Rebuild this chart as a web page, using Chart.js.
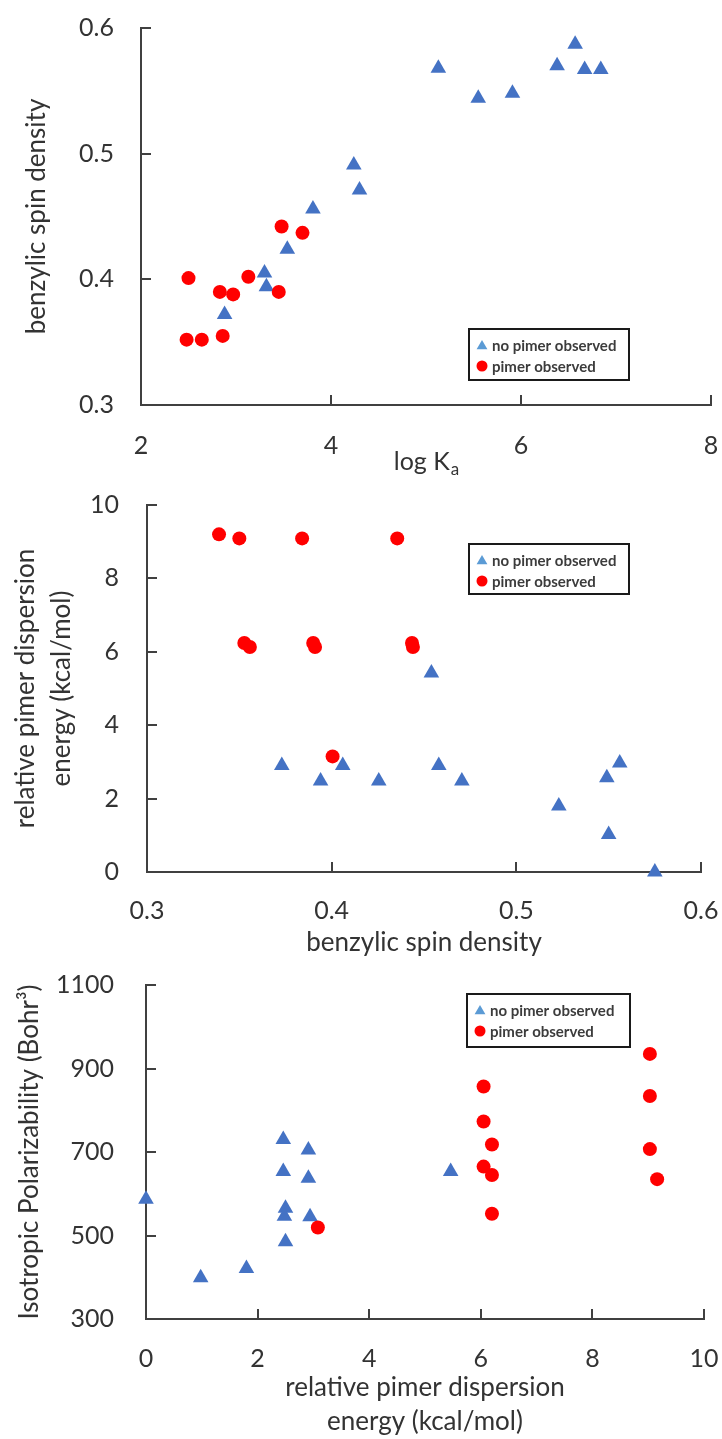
<!DOCTYPE html>
<html>
<head>
<meta charset="utf-8">
<script src="https://cdn.jsdelivr.net/npm/chart.js@4.4.0/dist/chart.umd.min.js"></script>
<style>
  html, body { margin: 0; padding: 0; background: #fff; }
  #wrap { position: relative; width: 722px; height: 1439px; }
  canvas { position: absolute; left: 0; }
</style>
</head>
<body>
<div id="wrap">
  <canvas id="c1" width="722" height="490" style="top:0"></canvas>
  <canvas id="c2" width="722" height="480" style="top:480px"></canvas>
  <canvas id="c3" width="722" height="479" style="top:960px"></canvas>
</div>
<script>
'use strict';

const LABEL_NONE = 'no pimer observed';
const LABEL_PIMER = 'pimer observed';

/* ─── Panel 1: log Ka vs benzylic spin density ─── */
const p1NoneLogKa = [5.13, 5.55, 5.91, 6.38, 6.57, 6.67, 6.84, 4.24, 4.30, 3.81, 3.54, 3.30, 3.32, 2.88];
const p1NoneSpin  = [0.568, 0.544, 0.548, 0.570, 0.587, 0.567, 0.567, 0.491, 0.471, 0.456, 0.424, 0.405, 0.394, 0.372];
const p1PimerLogKa = [2.50, 2.83, 2.97, 3.13, 3.48, 3.70, 3.45, 2.48, 2.64, 2.86];
const p1PimerSpin  = [0.401, 0.390, 0.388, 0.402, 0.442, 0.437, 0.390, 0.352, 0.352, 0.355];
const p1XTicks = [2, 4, 6, 8];
const p1XLabels = ['2', '4', '6', '8'];
const p1YTicks = [0.3, 0.4, 0.5, 0.6];
const p1YLabels = ['0.3', '0.4', '0.5', '0.6'];

/* ─── Panel 2: benzylic spin density vs relative pimer dispersion energy ─── */
const p2NoneSpin   = [0.454, 0.373, 0.394, 0.406, 0.4255, 0.458, 0.4705, 0.523, 0.549, 0.556, 0.550, 0.575];
const p2NoneEnergy = [5.42, 2.90, 2.48, 2.90, 2.48, 2.90, 2.48, 1.80, 2.57, 2.97, 1.02, 0.0];
const p2PimerSpin   = [0.339, 0.350, 0.384, 0.4355, 0.3527, 0.3557, 0.390, 0.391, 0.4435, 0.444, 0.4005];
const p2PimerEnergy = [9.20, 9.09, 9.09, 9.09, 6.24, 6.13, 6.24, 6.13, 6.24, 6.13, 3.15];
const p2XTicks = [0.3, 0.4, 0.5, 0.6];
const p2XLabels = ['0.3', '0.4', '0.5', '0.6'];
const p2YTicks = [0, 2, 4, 6, 8, 10];
const p2YLabels = ['0', '2', '4', '6', '8', '10'];

/* ─── Panel 3: relative pimer dispersion energy vs isotropic polarizability ─── */
const p3NoneEnergy = [0.0, 0.98, 1.80, 2.46, 2.46, 2.50, 2.48, 2.50, 2.91, 2.91, 2.94, 5.46];
const p3NonePolar  = [587, 399, 421, 730, 653, 565, 546, 485, 705, 637, 545, 653];
const p3PimerEnergy = [3.08, 6.05, 6.05, 6.20, 6.05, 6.20, 6.20, 9.03, 9.03, 9.03, 9.16];
const p3PimerPolar  = [519, 857, 773, 718, 665, 645, 552, 935, 834, 707, 635];
const p3XTicks = [0, 2, 4, 6, 8, 10];
const p3XLabels = ['0', '2', '4', '6', '8', '10'];
const p3YTicks = [300, 500, 700, 900, 1100];
const p3YLabels = ['300', '500', '700', '900', '1100'];

const BLUE = '#4472C4';
const BLUE_KEY = '#5B9BD5';
const RED = '#FF0000';
const AXIS = '#404040';
const TEXT = '#333333';

const $ = id => document.getElementById(id);
const pts = (xs, ys) => xs.map((x, i) => ({ x, y: ys[i] }));

Chart.defaults.font.family = 'Lato, "Open Sans", sans-serif';

// tick marks pointing into the plot, like the spreadsheet original
const inwardTicks = {
  id: 'inwardTicks',
  beforeDatasetsDraw(chart) {
    const { ctx, chartArea: a, scales: { x, y } } = chart;
    ctx.save();
    ctx.strokeStyle = AXIS;
    ctx.lineWidth = 2;
    ctx.beginPath();
    x.ticks.forEach(t => {
      const px = Math.round(x.getPixelForValue(t.value));
      ctx.moveTo(px, a.bottom);
      ctx.lineTo(px, a.bottom - 10);
    });
    y.ticks.forEach(t => {
      const py = Math.round(y.getPixelForValue(t.value));
      ctx.moveTo(a.left, py);
      ctx.lineTo(a.left + 10, py);
    });
    ctx.stroke();
    ctx.restore();
  }
};

// boxed legend inside the plot
const boxLegend = {
  id: 'boxLegend',
  afterDraw(chart, args, opts) {
    if (!opts || opts.x === undefined) return;
    const { ctx } = chart;
    const ds = chart.data.datasets;
    ctx.save();
    ctx.strokeStyle = '#1a1a1a';
    ctx.lineWidth = 2;
    ctx.strokeRect(opts.x, opts.y, opts.w, opts.h);

    // row 1: small triangle key
    const tx = opts.x + 13, ty = opts.y + 17, r = 6;
    ctx.fillStyle = BLUE_KEY;
    ctx.beginPath();
    ctx.moveTo(tx, ty - r);
    ctx.lineTo(tx + r * 0.9, ty + r * 0.55);
    ctx.lineTo(tx - r * 0.9, ty + r * 0.55);
    ctx.closePath();
    ctx.fill();

    // row 2: circle key
    ctx.fillStyle = ds[1].backgroundColor;
    ctx.beginPath();
    ctx.arc(opts.x + 13, opts.y + 37, 5.5, 0, Math.PI * 2);
    ctx.fill();

    ctx.fillStyle = '#3c3c3c';
    ctx.font = 'bold 15px Lato, sans-serif';
    ctx.textBaseline = 'middle';
    ctx.fillText(ds[0].label, opts.x + 23, opts.y + 17);
    ctx.fillText(ds[1].label, opts.x + 23, opts.y + 38);
    ctx.restore();
  }
};

// x title with a subscript (log Ka)
const subTitle = {
  id: 'subTitle',
  afterDraw(chart, args, opts) {
    if (!opts || !opts.main) return;
    const { ctx, chartArea: a } = chart;
    ctx.save();
    ctx.fillStyle = TEXT;
    ctx.textBaseline = 'alphabetic';
    ctx.font = '25px Lato, sans-serif';
    const w1 = ctx.measureText(opts.main).width;
    ctx.font = '17px Lato, sans-serif';
    const w2 = ctx.measureText(opts.sub).width;
    const x0 = (a.left + a.right) / 2 - (w1 + w2) / 2;
    ctx.font = '25px Lato, sans-serif';
    ctx.fillText(opts.main, x0, opts.baseline);
    ctx.font = '17px Lato, sans-serif';
    ctx.fillText(opts.sub, x0 + w1 + 1, opts.baseline + 5);
    ctx.restore();
  }
};

function axis(c) {
  return {
    type: 'linear',
    min: c.ticks[0],
    max: c.ticks[c.ticks.length - 1],
    afterBuildTicks: s => { s.ticks = c.ticks.map(v => ({ value: v })); },
    afterFit: s => {
      if (c.w !== undefined) s.width = c.w; else s.height = c.h;
      // keep tick padding from pushing the plot area inwards
      s.paddingTop = s.paddingBottom = s.paddingLeft = s.paddingRight = 0;
    },
    grid: { display: false, drawTicks: false },
    border: { display: true, color: AXIS, width: 2 },
    ticks: {
      padding: c.pad,
      color: TEXT,
      maxRotation: 0,
      autoSkip: false,
      font: { size: 25 },
      callback: (v, i) => c.labels[i]
    },
    title: c.title ? {
      display: true,
      text: c.title,
      color: TEXT,
      font: { size: 26, lineHeight: c.lh || 1.2 },
      padding: c.tpad
    } : { display: false }
  };
}

function makePanel(id, p) {
  return new Chart($(id), {
    type: 'scatter',
    data: {
      datasets: [
        { label: LABEL_NONE, data: pts(p.noneX, p.noneY), pointStyle: 'triangle',
          pointRadius: 9, pointHoverRadius: 9, backgroundColor: BLUE, borderWidth: 0, order: 1, clip: false },
        { label: LABEL_PIMER, data: pts(p.pimerX, p.pimerY), pointStyle: 'circle',
          pointRadius: 7, pointHoverRadius: 7, backgroundColor: RED, borderWidth: 0, order: 0, clip: false }
      ]
    },
    options: {
      responsive: false,
      animation: false,
      devicePixelRatio: 1,
      events: [],
      layout: { padding: { left: 0, top: p.top, right: p.right, bottom: 0 } },
      plugins: {
        legend: { display: false },
        tooltip: { enabled: false },
        boxLegend: p.legend,
        subTitle: p.sub || {}
      },
      scales: { x: axis(p.x), y: axis(p.y) }
    },
    plugins: [inwardTicks, boxLegend, subTitle]
  });
}

document.addEventListener('DOMContentLoaded', () => {
  makePanel('c1', {
    noneX: p1NoneLogKa, noneY: p1NoneSpin, pimerX: p1PimerLogKa, pimerY: p1PimerSpin,
    top: 28, right: 11,
    x: { ticks: p1XTicks, labels: p1XLabels, h: 85, pad: 26 },
    y: { ticks: p1YTicks, labels: p1YLabels, w: 141, pad: 27,
         title: 'benzylic spin density', tpad: { top: 21, bottom: 0 } },
    sub: { main: 'log K', sub: 'a', baseline: 470 },
    legend: { x: 469, y: 329, w: 160, h: 51 }
  });

  makePanel('c2', {
    noneX: p2NoneSpin, noneY: p2NoneEnergy, pimerX: p2PimerSpin, pimerY: p2PimerEnergy,
    top: 25, right: 21,
    x: { ticks: p2XTicks, labels: p2XLabels, h: 88, pad: 24,
         title: 'benzylic spin density', tpad: { top: 0, bottom: 1.5 } },
    y: { ticks: p2YTicks, labels: p2YLabels, w: 147, pad: 28,
         title: ['relative pimer dispersion', 'energy (kcal/mol)'], lh: 1.35, tpad: { top: 8.5, bottom: 0 } },
    legend: { x: 469, y: 64, w: 160, h: 50 }
  });

  makePanel('c3', {
    noneX: p3NoneEnergy, noneY: p3NonePolar, pimerX: p3PimerEnergy, pimerY: p3PimerPolar,
    top: 25, right: 18,
    x: { ticks: p3XTicks, labels: p3XLabels, h: 120, pad: 25,
         title: ['relative pimer dispersion', 'energy (kcal/mol)'], lh: 1.31, tpad: { top: 0, bottom: 0 } },
    y: { ticks: p3YTicks, labels: p3YLabels, w: 146, pad: 32,
         title: 'Isotropic Polarizability (Bohr³)', tpad: { top: 14, bottom: 0 } },
    legend: { x: 467, y: 34, w: 163, h: 53 }
  });
});
</script>
</body>
</html>
